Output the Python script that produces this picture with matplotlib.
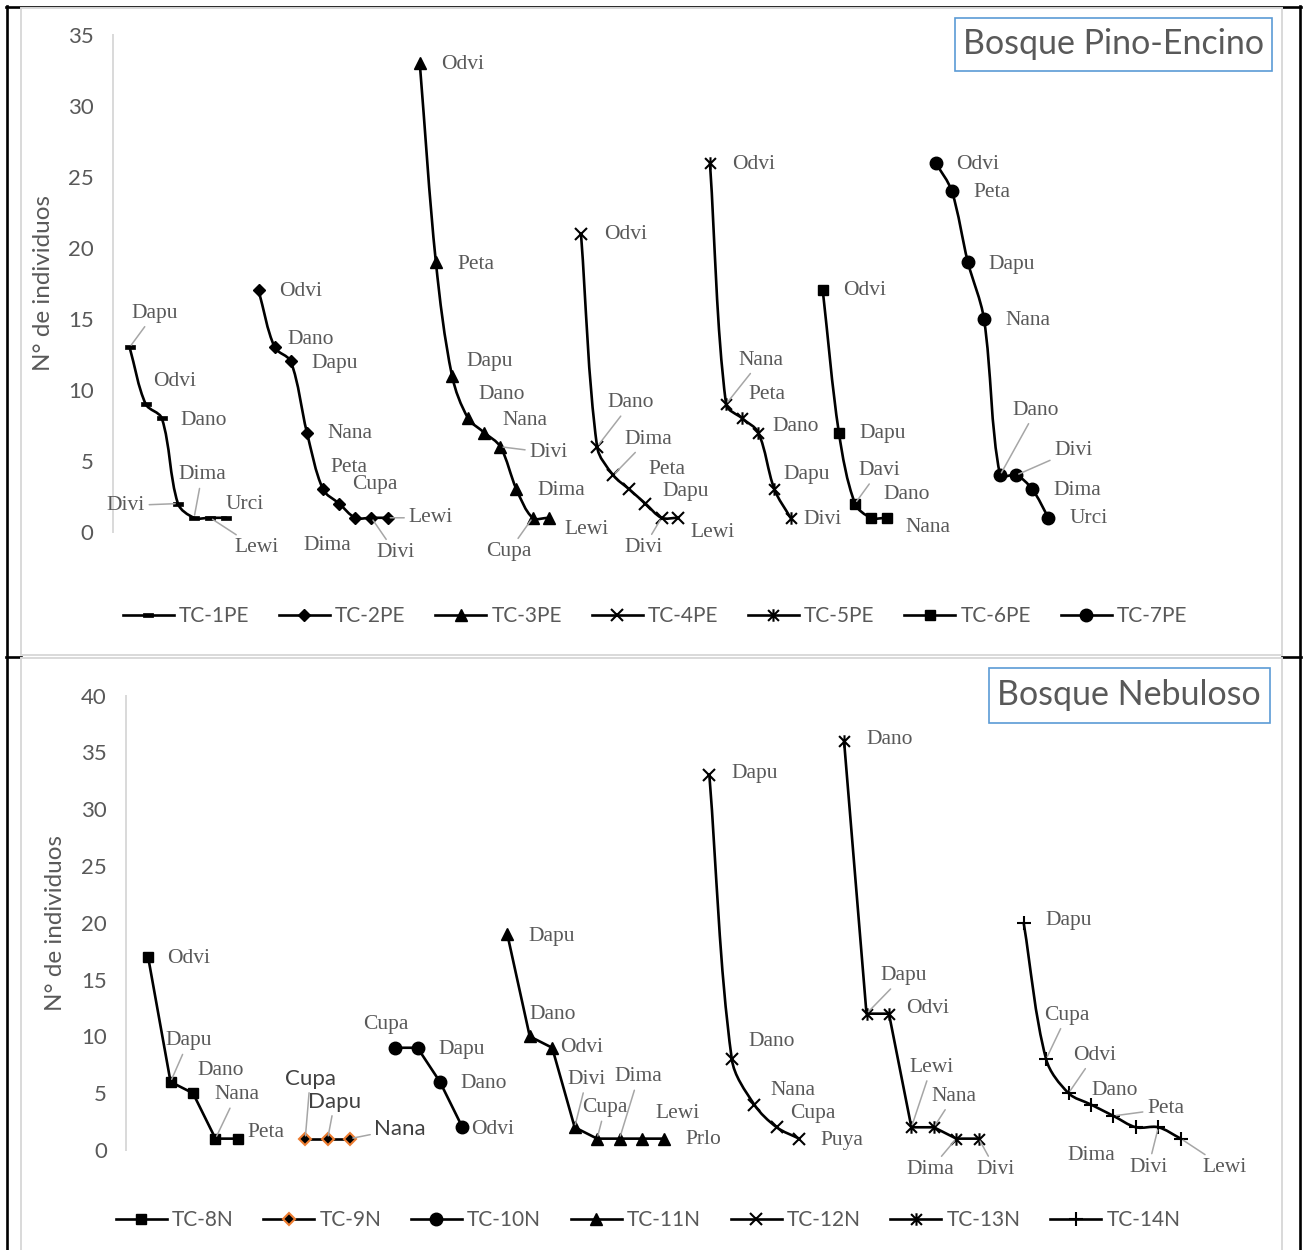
import numpy as np
import matplotlib
matplotlib.use("Agg")
import matplotlib.pyplot as plt
from matplotlib.path import Path
from matplotlib.patches import PathPatch, Rectangle
from matplotlib.lines import Line2D

plt.rcParams['font.family'] = ['Lato', 'DejaVu Sans']

# ------------------------------------------------------------------ data
# Bosque Pino-Encino
tc1pe_sp = ["Dapu", "Odvi", "Dano", "Divi", "Dima", "Lewi", "Urci"]
tc1pe_n = [13, 9, 8, 2, 1, 1, 1]
tc2pe_sp = ["Odvi", "Dano", "Dapu", "Nana", "Peta", "Cupa", "Dima", "Divi", "Lewi"]
tc2pe_n = [17, 13, 12, 7, 3, 2, 1, 1, 1]
tc3pe_sp = ["Odvi", "Peta", "Dapu", "Dano", "Nana", "Divi", "Dima", "Cupa", "Lewi"]
tc3pe_n = [33, 19, 11, 8, 7, 6, 3, 1, 1]
tc4pe_sp = ["Odvi", "Dano", "Dima", "Peta", "Dapu", "Divi", "Lewi"]
tc4pe_n = [21, 6, 4, 3, 2, 1, 1]
tc5pe_sp = ["Odvi", "Nana", "Peta", "Dano", "Dapu", "Divi"]
tc5pe_n = [26, 9, 8, 7, 3, 1]
tc6pe_sp = ["Odvi", "Dapu", "Davi", "Dano", "Nana"]
tc6pe_n = [17, 7, 2, 1, 1]
tc7pe_sp = ["Odvi", "Peta", "Dapu", "Nana", "Dano", "Divi", "Dima", "Urci"]
tc7pe_n = [26, 24, 19, 15, 4, 4, 3, 1]
top_names = ["TC-1PE", "TC-2PE", "TC-3PE", "TC-4PE", "TC-5PE", "TC-6PE", "TC-7PE"]
top_start = [0, 8, 18, 28, 36, 43, 50]          # first category slot of each series

# Bosque Nebuloso
tc8n_sp = ["Odvi", "Dapu", "Dano", "Nana", "Peta"]
tc8n_n = [17, 6, 5, 1, 1]
tc9n_sp = ["Cupa", "Dapu", "Nana"]
tc9n_n = [1, 1, 1]
tc10n_sp = ["Cupa", "Dapu", "Dano", "Odvi"]
tc10n_n = [9, 9, 6, 2]
tc11n_sp = ["Dapu", "Dano", "Odvi", "Divi", "Cupa", "Dima", "Lewi", "Prlo"]
tc11n_n = [19, 10, 9, 2, 1, 1, 1, 1]
tc12n_sp = ["Dapu", "Dano", "Nana", "Cupa", "Puya"]
tc12n_n = [33, 8, 4, 2, 1]
tc13n_sp = ["Dano", "Dapu", "Odvi", "Lewi", "Nana", "Dima", "Divi"]
tc13n_n = [36, 12, 12, 2, 2, 1, 1]
tc14n_sp = ["Dapu", "Cupa", "Odvi", "Dano", "Peta", "Dima", "Divi", "Lewi"]
tc14n_n = [20, 8, 5, 4, 3, 2, 2, 1]
bot_names = ["TC-8N", "TC-9N", "TC-10N", "TC-11N", "TC-12N", "TC-13N", "TC-14N"]
bot_start = [0, 7, 11, 16, 25, 31, 39]

top_ticks = [0, 5, 10, 15, 20, 25, 30, 35]
bot_ticks = [0, 5, 10, 15, 20, 25, 30, 35, 40]

# ------------------------------------------------------------------ layout (label offsets in px: dx, dy-down, leader)
top_lab = [
    [(25, -34, 1), (29, -23, 0), (42, 2, 0), (-52, 2, 1), (8, -43, 1), (46, 30, 1), (18, -13, 0)],
    [(42, 1, 0), (36, -8, 0), (44, 2, 0), (43, 1, 0), (26, -22, 0), (36, -19, 0), (-28, 28, 0), (24, 35, 1), (43, 0, 1)],
    [(43, 1, 0), (40, 2, 0), (38, -14, 0), (34, -24, 0), (41, -12, 0), (48, 6, 1), (45, 1, 0), (-24, 34, 1), (38, 12, 0)],
    [(45, 1, 0), (34, -44, 1), (35, -36, 1), (38, -20, 0), (40, -12, 0), (-18, 30, 1), (35, 15, 0)],
    [(44, 2, 0), (35, -44, 1), (25, -24, 0), (37, -6, 0), (32, -15, 0), (32, 2, 0)],
    [(42, 0, 0), (44, 1, 0), (24, -33, 1), (36, -23, 0), (41, 10, 0)],
    [(42, 2, 0), (40, 2, 0), (44, 2, 0), (44, 2, 0), (36, -65, 1), (57, -25, 1), (45, 1, 0), (40, 1, 0)],
]
bot_lab = [
    [(41, 2, 0), (18, -41, 1), (28, -23, 0), (21, -44, 1), (28, -6, 0)],
    [(5, -60, 1), (7, -37, 1), (50, -10, 1)],
    [(-9, -23, 0), (44, 2, 0), (44, 2, 0), (30, 2, 0)],
    [(44, 2, 0), (23, -22, 0), (29, 0, 0), (12, -48, 1), (8, -31, 1), (19, -62, 1), (36, -25, 0), (39, 1, 0)],
    [(45, -2, 0), (40, -18, 0), (39, -14, 0), (36, -14, 0), (43, 2, 0)],
    [(46, -2, 0), (37, -38, 1), (39, -5, 0), (20, -60, 1), (20, -31, 1), (-26, 31, 1), (17, 31, 1)],
    [(45, -2, 0), (21, -44, 1), (26, -38, 1), (24, -14, 0), (52, -7, 1), (-45, 28, 0), (-10, 40, 1), (44, 29, 1)],
]

W, H = 1307, 1250
def fx(x): return x / W
def fy(y): return 1 - y / H

LAB_COL = '#595959'
SERIF = ['Liberation Serif', 'DejaVu Serif']

star = Path([(-1, -1), (1, 1), (-1, 1), (1, -1), (0, -1.15), (0, 1.15)],
            [Path.MOVETO, Path.LINETO] * 3)
dash = Path([(-1, -0.38), (1, -0.38), (1, 0.38), (-1, 0.38), (-1, -0.38)],
            [Path.MOVETO, Path.LINETO, Path.LINETO, Path.LINETO, Path.CLOSEPOLY])

top_mk = [dict(marker=dash, ms=6.5, mfc='k', mec='k', mew=0.5),
          dict(marker='D', ms=6.5, mfc='k', mec='k'),
          dict(marker='^', ms=8.5, mfc='k', mec='k'),
          dict(marker='x', ms=8.5, mec='k', mew=1.5),
          dict(marker=star, ms=9, mec='k', mew=1.5),
          dict(marker='s', ms=7.5, mfc='k', mec='k'),
          dict(marker='o', ms=9, mfc='k', mec='k')]
bot_mk = [dict(marker='s', ms=7, mfc='k', mec='k'),
          dict(marker='D', ms=6.5, mfc='k', mec='#ED7D31', mew=1.5),
          dict(marker='o', ms=9, mfc='k', mec='k'),
          dict(marker='^', ms=8.5, mfc='k', mec='k'),
          dict(marker='x', ms=8.5, mec='k', mew=1.5),
          dict(marker=star, ms=9, mec='k', mew=1.5),
          dict(marker='+', ms=10, mec='k', mew=1.5)]
top_smooth = [True] * 7
bot_smooth = [False, False, False, False, True, False, True]

LW = 1.9


def smooth_path(ax, xs, ys):
    """Bezier smoothing (chart-style) computed in display space, returned in data space."""
    P = ax.transData.transform(np.column_stack([xs, ys]).astype(float))
    n = len(P)
    inv = ax.transData.inverted()
    verts = [P[0]]
    codes = [Path.MOVETO]
    for i in range(n - 1):
        p0 = P[max(i - 1, 0)]
        p1 = P[i]
        p2 = P[i + 1]
        p3 = P[min(i + 2, n - 1)]
        d01 = np.hypot(*(p1 - p0))
        d12 = np.hypot(*(p2 - p1))
        d23 = np.hypot(*(p3 - p2))
        f1 = d12 / (d01 + d12) if (d01 + d12) > 0 else 0
        f2 = d12 / (d12 + d23) if (d12 + d23) > 0 else 0
        c1 = p1 + (p2 - p0) * f1 / 3.0
        c2 = p2 - (p3 - p1) * f2 / 3.0
        verts += [c1, c2, p2]
        codes += [Path.CURVE4] * 3
    return Path(inv.transform(np.array(verts)), codes)


fig = plt.figure(figsize=(W / 100, H / 100), dpi=100)

# table borders and chart frames
for (x0, y0, x1, y1) in [(7, 6, 7, 1250), (6, 7, 1301, 7), (1300, 6, 1300, 1250),
                         (6, 657, 21, 657), (1282, 657, 1301, 657)]:
    fig.add_artist(Line2D([fx(x0), fx(x1)], [fy(y0), fy(y1)], color='black', lw=1.9,
                          transform=fig.transFigure, zorder=-3))
for (x0, y0, x1, y1) in [(20.7, 8, 1282, 655), (20.7, 658, 1282, 1262)]:
    fig.add_artist(Rectangle((fx(x0), fy(y1)), fx(x1) - fx(x0), fy(y0) - fy(y1),
                             transform=fig.transFigure, facecolor='white',
                             edgecolor='#D9D9D9', lw=1.4, zorder=-2))


def make_panel(box, xlim, ylim, ticks, sp_list, n_list, starts, names, mks, smooth, labs,
               title, title_box, ylab_pos, leg_center):
    l, t, r, b = box
    ax = fig.add_axes([fx(l), fy(b), fx(r) - fx(l), fy(t) - fy(b)])
    ax.patch.set_alpha(0)
    ax.set_xlim(*xlim)
    ax.set_ylim(*ylim)
    for s in ['top', 'right', 'bottom']:
        ax.spines[s].set_visible(False)
    ax.spines['left'].set_color('#D9D9D9')
    ax.spines['left'].set_linewidth(1.4)
    ax.set_xticks([])
    ax.set_yticks(ticks)
    ax.tick_params(axis='y', length=0, pad=14, labelsize=16, labelcolor=LAB_COL)

    handles = []
    for k in range(len(names)):
        xs = np.arange(len(n_list[k])) + starts[k]
        ys = np.asarray(n_list[k], float)
        if smooth[k]:
            ax.add_patch(PathPatch(smooth_path(ax, xs, ys), facecolor='none', edgecolor='k',
                                   lw=LW, zorder=2, capstyle='round', joinstyle='round'))
        else:
            ax.plot(xs, ys, color='k', lw=LW, zorder=2)
        ax.plot(xs, ys, linestyle='none', zorder=3, clip_on=False, **mks[k])
        handles.append(Line2D([], [], color='k', lw=LW, **mks[k]))
        for j, name in enumerate(sp_list[k]):
            dx, dy, lead = labs[k][j]
            if names[k] == 'TC-9N':
                fp = dict(family=['Lato', 'DejaVu Sans'], size=16, color='#404040')
            else:
                fp = dict(family=SERIF, size=15.5, color=LAB_COL)
            ap = None
            if lead:
                ap = dict(arrowstyle='-', color='#A6A6A6', lw=1.1, shrinkA=1, shrinkB=2)
            ax.annotate(name, (xs[j], ys[j]), xytext=(dx, -dy), textcoords='offset pixels',
                        ha='center', va='center', arrowprops=ap, zorder=4, **fp)

    leg = ax.legend(handles, names, loc='center', bbox_to_anchor=(fx(leg_center[0]), fy(leg_center[1])),
                    bbox_transform=fig.transFigure, ncol=7, frameon=False, fontsize=15,
                    handlelength=2.45, handletextpad=0.25, columnspacing=1.42, borderaxespad=0)
    for tx in leg.get_texts():
        tx.set_color(LAB_COL)

    bx0, by0, bx1, by1 = title_box
    fig.add_artist(Rectangle((fx(bx0), fy(by1)), fx(bx1) - fx(bx0), fy(by0) - fy(by1),
                             transform=fig.transFigure, facecolor='white', edgecolor='#5B9BD5',
                             lw=1.2, zorder=5))
    fig.text(fx((bx0 + bx1) / 2), fy((by0 + by1) / 2), title, ha='center', va='center',
             fontsize=24.5, color=LAB_COL, zorder=6)
    fig.text(fx(ylab_pos[0]), fy(ylab_pos[1]), "N° de individuos", rotation=90,
             ha='center', va='center', fontsize=17.5, color=LAB_COL)
    return ax


# top panel: y 0 -> 532 px, 35 -> 34.7 px ; x slot i -> 129.6 + 16.12 i
make_panel((113, 34.7, 1265, 532), ((113 - 129.6) / 16.12, (1265 - 129.6) / 16.12), (0, 35),
           top_ticks,
           [tc1pe_sp, tc2pe_sp, tc3pe_sp, tc4pe_sp, tc5pe_sp, tc6pe_sp, tc7pe_sp],
           [tc1pe_n, tc2pe_n, tc3pe_n, tc4pe_n, tc5pe_n, tc6pe_n, tc7pe_n],
           top_start, top_names, top_mk, top_smooth, top_lab,
           "Bosque Pino-Encino", (954.6, 17.5, 1272, 71.4), (44, 283), (655, 616))

# bottom panel: y 0 -> 1150 px, 40 -> 695.6 px ; x slot i -> 148.1 + 22.45 i
make_panel((126.3, 695.6, 1265, 1150), ((126.3 - 148.1) / 22.45, (1265 - 148.1) / 22.45), (0, 40),
           bot_ticks,
           [tc8n_sp, tc9n_sp, tc10n_sp, tc11n_sp, tc12n_sp, tc13n_sp, tc14n_sp],
           [tc8n_n, tc9n_n, tc10n_n, tc11n_n, tc12n_n, tc13n_n, tc14n_n],
           bot_start, bot_names, bot_mk, bot_smooth, bot_lab,
           "Bosque Nebuloso", (988.5, 668.4, 1270, 722.5), (56, 923), (648, 1220))

fig.savefig("out.png", dpi=100)
